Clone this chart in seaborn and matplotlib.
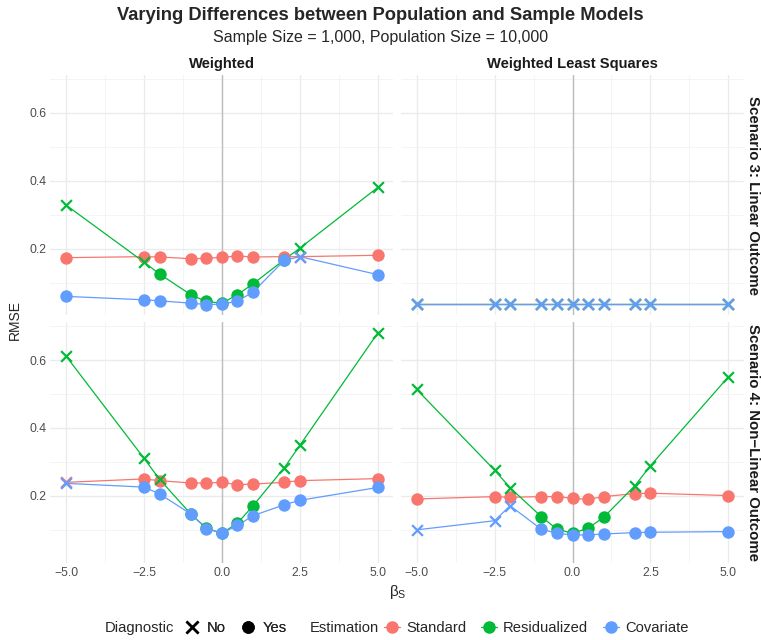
import numpy as np
import pandas as pd
import matplotlib.pyplot as plt
import seaborn as sns
from matplotlib.lines import Line2D
from matplotlib.ticker import FixedLocator

# x values (beta_S) shared by every panel
beta_s = [-5, -2.5, -2, -1, -0.5, 0, 0.5, 1, 2, 2.5, 5]
estimations = ['Standard', 'Residualized', 'Covariate']
methods = ['Weighted', 'Weighted Least Squares']
scenarios = ['Scenario 3: Linear Outcome', 'Scenario 4: Non\u2212Linear Outcome']

# RMSE
s3_w_standard = [0.174, 0.177, 0.176, 0.171, 0.172, 0.175, 0.179, 0.176, 0.177, 0.177, 0.181]
s3_w_resid = [0.329, 0.161, 0.126, 0.065, 0.045, 0.040, 0.065, 0.097, 0.168, 0.202, 0.381]
s3_w_cov = [0.060, 0.050, 0.047, 0.040, 0.036, 0.037, 0.046, 0.073, 0.166, 0.177, 0.124]

s3_wls_standard = [0.038] * 11
s3_wls_resid = [0.039] * 11
s3_wls_cov = [0.037] * 11

s4_w_standard = [0.240, 0.250, 0.245, 0.238, 0.238, 0.240, 0.233, 0.235, 0.240, 0.245, 0.251]
s4_w_resid = [0.612, 0.311, 0.249, 0.147, 0.105, 0.090, 0.120, 0.171, 0.283, 0.349, 0.680]
s4_w_cov = [0.237, 0.226, 0.206, 0.147, 0.104, 0.090, 0.113, 0.142, 0.174, 0.187, 0.225]

s4_wls_standard = [0.191, 0.198, 0.196, 0.198, 0.198, 0.193, 0.190, 0.198, 0.207, 0.208, 0.201]
s4_wls_resid = [0.514, 0.276, 0.224, 0.139, 0.102, 0.090, 0.105, 0.137, 0.230, 0.289, 0.551]
s4_wls_cov = [0.100, 0.127, 0.171, 0.102, 0.090, 0.085, 0.085, 0.088, 0.092, 0.093, 0.095]

# Diagnostic flags (Y = Yes, N = No)
s3_w_standard_diag = ['Y', 'Y', 'Y', 'Y', 'Y', 'Y', 'Y', 'Y', 'Y', 'N', 'Y']
s3_w_resid_diag = ['N', 'N', 'Y', 'Y', 'Y', 'Y', 'Y', 'Y', 'Y', 'N', 'N']
s3_w_cov_diag = ['Y', 'Y', 'Y', 'Y', 'Y', 'Y', 'Y', 'Y', 'Y', 'N', 'Y']

s3_wls_standard_diag = ['N'] * 11
s3_wls_resid_diag = ['N'] * 11
s3_wls_cov_diag = ['N'] * 11

s4_w_standard_diag = ['N', 'Y', 'Y', 'Y', 'Y', 'Y', 'Y', 'Y', 'Y', 'Y', 'Y']
s4_w_resid_diag = ['N', 'N', 'N', 'Y', 'Y', 'Y', 'Y', 'Y', 'N', 'N', 'N']
s4_w_cov_diag = ['N', 'Y', 'Y', 'Y', 'Y', 'Y', 'Y', 'Y', 'Y', 'Y', 'Y']

s4_wls_standard_diag = ['Y'] * 11
s4_wls_resid_diag = ['N', 'N', 'N', 'Y', 'Y', 'Y', 'Y', 'Y', 'N', 'N', 'N']
s4_wls_cov_diag = ['N', 'N', 'N', 'Y', 'Y', 'Y', 'Y', 'Y', 'Y', 'Y', 'Y']

panels = {
    (0, 0): [(s3_w_standard, s3_w_standard_diag), (s3_w_resid, s3_w_resid_diag), (s3_w_cov, s3_w_cov_diag)],
    (0, 1): [(s3_wls_standard, s3_wls_standard_diag), (s3_wls_resid, s3_wls_resid_diag), (s3_wls_cov, s3_wls_cov_diag)],
    (1, 0): [(s4_w_standard, s4_w_standard_diag), (s4_w_resid, s4_w_resid_diag), (s4_w_cov, s4_w_cov_diag)],
    (1, 1): [(s4_wls_standard, s4_wls_standard_diag), (s4_wls_resid, s4_wls_resid_diag), (s4_wls_cov, s4_wls_cov_diag)],
}

rows = []
for (r, c), series in panels.items():
    for est, (vals, diags) in zip(estimations, series):
        for b, v, d in zip(beta_s, vals, diags):
            rows.append({'scenario': scenarios[r], 'method': methods[c], 'Estimation': est,
                         'beta': b, 'rmse': v, 'Diagnostic': 'Yes' if d == 'Y' else 'No'})
df = pd.DataFrame(rows)

palette = {'Standard': '#F8766D', 'Residualized': '#00BA38', 'Covariate': '#619CFF'}

sns.set_theme(style='white')
plt.rcParams['font.family'] = ['Liberation Sans', 'DejaVu Sans']

fig, axes = plt.subplots(2, 2, figsize=(7.61, 6.4), dpi=100, sharex=True, sharey=True)
fig.subplots_adjust(left=0.0662, right=0.9777, bottom=0.121, top=0.883, wspace=0.022, hspace=0.027)

ymin, ymax = df['rmse'].min(), df['rmse'].max()
pad = (ymax - ymin) * 0.05

for (r, c), ax in np.ndenumerate(axes):
    sub = df[(df['scenario'] == scenarios[r]) & (df['method'] == methods[c])]
    ax.set_xlim(-5.5, 5.5)
    ax.set_ylim(ymin - pad, ymax + pad)
    ax.xaxis.set_major_locator(FixedLocator([-5, -2.5, 0, 2.5, 5]))
    ax.xaxis.set_minor_locator(FixedLocator([-3.75, -1.25, 1.25, 3.75]))
    ax.yaxis.set_major_locator(FixedLocator([0.2, 0.4, 0.6]))
    ax.yaxis.set_minor_locator(FixedLocator([0.1, 0.3, 0.5, 0.7]))
    ax.grid(which='major', color='#EBEBEB', linewidth=1.0)
    ax.grid(which='minor', color='#F2F2F2', linewidth=0.6)
    ax.set_axisbelow(True)
    for s in ax.spines.values():
        s.set_visible(False)
    ax.axvline(0, color='#BEBEBE', linewidth=1.0, zorder=1)

    sns.lineplot(data=sub, x='beta', y='rmse', hue='Estimation', palette=palette,
                 hue_order=estimations, linewidth=0.9, legend=False, ax=ax, zorder=2)
    for est in estimations:
        yes = sub[(sub['Estimation'] == est) & (sub['Diagnostic'] == 'Yes')]
        no = sub[(sub['Estimation'] == est) & (sub['Diagnostic'] == 'No')]
        if len(yes):
            sns.scatterplot(data=yes, x='beta', y='rmse', color=palette[est], marker='o',
                            s=80, linewidth=0, legend=False, ax=ax, zorder=3)
        if len(no):
            sns.scatterplot(data=no, x='beta', y='rmse', color=palette[est], marker='x',
                            s=60, linewidth=1.6, legend=False, ax=ax, zorder=3)

    ax.set_xlabel('')
    ax.set_ylabel('')
    ax.tick_params(axis='both', which='both', length=0, labelsize=8.8, labelcolor='#4D4D4D', pad=3)
    ax.set_xticklabels(['\u22125.0', '\u22122.5', '0.0', '2.5', '5.0'])
    ax.set_yticklabels(['0.2', '0.4', '0.6'])
    if r == 0:
        ax.set_title(methods[c], fontsize=10.6, fontweight='bold', color='#1A1A1A', pad=5)
    if c == 1:
        ax.text(1.005, 0.5, scenarios[r], transform=ax.transAxes, rotation=270,
                ha='left', va='center', fontsize=10.8, fontweight='bold', color='#1A1A1A')

fig.text(0.5, 0.975, 'Varying Differences between Population and Sample Models',
         ha='center', va='center', fontsize=13.2, fontweight='bold')
fig.text(0.5, 0.942, 'Sample Size = 1,000, Population Size = 10,000',
         ha='center', va='center', fontsize=11.5)
fig.text(0.02, 0.5, 'RMSE', rotation=90, ha='center', va='center', fontsize=10)
fig.text(0.523, 0.075, r'$\mathregular{\beta_S}$', ha='center', va='center', fontsize=11)

# legend row at the bottom
fy = 1 - 628 / 640
fig.text(105 / 761, fy, 'Diagnostic', ha='left', va='center', fontsize=10.6)
diag_handles = [Line2D([], [], color='black', marker='x', linestyle='none', markersize=8, markeredgewidth=1.8),
                Line2D([], [], color='black', marker='o', linestyle='none', markersize=8)]
leg1 = fig.legend(diag_handles, ['No', 'Yes'], ncol=2, loc='center left',
                  bbox_to_anchor=(185 / 761, fy), frameon=False, fontsize=10.6,
                  handlelength=1.0, handletextpad=0.5, columnspacing=1.0, borderaxespad=0, borderpad=0)
fig.text(310 / 761, fy, 'Estimation', ha='left', va='center', fontsize=10.6)
est_handles = [Line2D([], [], color=palette[e], marker='o', markersize=8, linewidth=0.9) for e in estimations]
leg2 = fig.legend(est_handles, estimations, ncol=3, loc='center left',
                  bbox_to_anchor=(384 / 761, fy), frameon=False, fontsize=10.6,
                  handlelength=1.1, handletextpad=0.4, columnspacing=1.0, borderaxespad=0, borderpad=0)
fig.add_artist(leg1)

fig.savefig('out.png', dpi=100)
